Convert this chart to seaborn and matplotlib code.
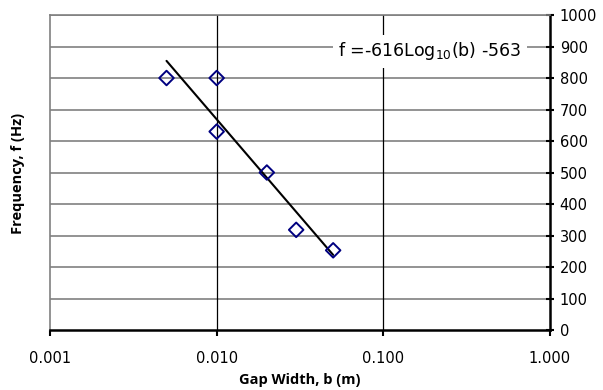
import numpy as np
import pandas as pd
import matplotlib
matplotlib.use("Agg")
import matplotlib.pyplot as plt
import seaborn as sns
from matplotlib.ticker import FixedLocator, FixedFormatter, NullLocator

# Measured gap widths (m) and frequencies (Hz)
gap_width = [0.005, 0.010, 0.010, 0.020, 0.030, 0.050]
frequency = [800, 800, 630, 500, 318, 253]

# Logarithmic trend: f = slope*log10(b) + intercept
trend_slope = -616
trend_intercept = -563
trend_range = [0.005, 0.050]

x_ticks = [0.001, 0.01, 0.1, 1.0]
x_tick_labels = ["0.001", "0.010", "0.100", "1.000"]
y_ticks = [0, 100, 200, 300, 400, 500, 600, 700, 800, 900, 1000]

sns.set_theme(style="white")
plt.rcParams["font.family"] = ["DejaVu Sans"]
plt.rcParams["text.color"] = "black"
plt.rcParams["axes.labelcolor"] = "black"
plt.rcParams["xtick.color"] = "black"
plt.rcParams["ytick.color"] = "black"

fig = plt.figure(figsize=(6.03, 3.90), dpi=100)
ax = fig.add_axes([0.083, 0.1538, 0.829, 0.8077])

df = pd.DataFrame({"b": gap_width, "f": frequency})
bb = np.logspace(np.log10(trend_range[0]), np.log10(trend_range[1]), 60)
trend = pd.DataFrame({"b": bb, "f": trend_slope * np.log10(bb) + trend_intercept})

ax.set_xscale("log")
ax.set_xlim(0.001, 1.0)
ax.set_ylim(0, 1000)

# Grid: grey horizontal lines, black vertical decade lines
for y in y_ticks[1:]:
    ax.axhline(y, color="#808080", lw=1.2, zorder=0)
for x in x_ticks[1:-1]:
    ax.axvline(x, color="black", lw=0.9, zorder=0)

sns.lineplot(data=trend, x="b", y="f", ax=ax, color="black", lw=1.5, zorder=3)
sns.scatterplot(data=df, x="b", y="f", ax=ax, marker="D", s=55,
                facecolor="none", edgecolor="#000080", linewidth=1.4, zorder=4)

ax.xaxis.set_major_locator(FixedLocator(x_ticks))
ax.xaxis.set_major_formatter(FixedFormatter(x_tick_labels))
ax.xaxis.set_minor_locator(NullLocator())
ax.yaxis.tick_right()
ax.set_yticks(y_ticks)
ax.set_yticklabels([str(v) for v in y_ticks])
ax.tick_params(axis="x", direction="out", length=4, width=1.5, colors="black",
               labelsize=10.5, pad=11, bottom=True)
ax.tick_params(axis="y", direction="inout", length=6, width=1.5, colors="black",
               labelsize=10.5, pad=4, right=True, left=False)

for side in ("left", "top"):
    ax.spines[side].set_color("#808080")
    ax.spines[side].set_linewidth(1.2)
for side in ("right", "bottom"):
    ax.spines[side].set_color("black")
    ax.spines[side].set_linewidth(1.8)
for side in ax.spines:
    ax.spines[side].set_visible(True)

ax.set_xlabel("Gap Width, b (m)", family="Open Sans", fontweight="bold",
              fontsize=10.5, labelpad=5, color="black")
ax.set_ylabel("")
fig.text(0.03, 0.555, "Frequency, f (Hz)", rotation=90, family="Open Sans",
         fontweight="bold", fontsize=10.5, ha="center", va="center",
         color="black")

ax.text(0.76, 0.885, r"f =-616Log$_{10}$(b) -563", transform=ax.transAxes,
        fontsize=12.5, ha="center", va="center",
        zorder=5, color="black",
        bbox=dict(facecolor="white", edgecolor="none", pad=4))

fig.savefig("out.png", dpi=100)
